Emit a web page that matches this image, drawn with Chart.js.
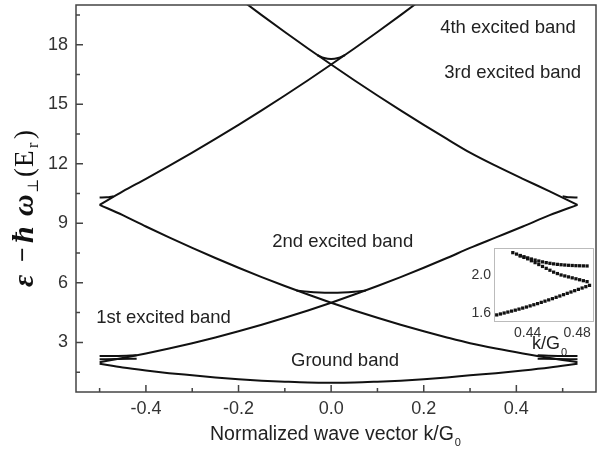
<!DOCTYPE html>
<html>
<head>
<meta charset="utf-8">
<script src="https://cdn.jsdelivr.net/npm/chart.js@4.4.1/dist/chart.umd.min.js"></script>
<style>
  html, body { margin: 0; padding: 0; background: #fff; }
  #wrap { position: relative; width: 597px; height: 450px; }
  #main { position: absolute; left: 0; top: 0; }
  #inset { position: absolute; left: 455px; top: 240px; }
</style>
</head>
<body>
<div id="wrap">
  <canvas id="main" width="597" height="450"></canvas>
  <canvas id="inset" width="142" height="118"></canvas>
</div>
<script>
// ---- data ----
// the right half of the plot runs a little past 0.5 in the original figure
const kGrid = [-0.5, -0.45, -0.4, -0.35, -0.3, -0.25, -0.2, -0.15, -0.1, -0.05, 0,
               0.05, 0.1, 0.15, 0.2, 0.25, 0.3, 0.356, 0.414, 0.472, 0.532];

const groundBand   = [1.92, 1.73, 1.58, 1.45, 1.34, 1.23, 1.14, 1.07, 1.02, 0.98, 0.97,
                      0.98, 1.02, 1.07, 1.14, 1.23, 1.34, 1.45, 1.58, 1.73, 1.92];
const risingLow    = [2.00, 2.21, 2.44, 2.69, 2.96, 3.25, 3.56, 3.89, 4.24, 4.61, 5.00,
                      5.41, 5.84, 6.29, 6.76, 7.25, 7.76, 8.29, 8.84, 9.41, 9.93];
const fallingLow   = [9.93, 9.41, 8.84, 8.29, 7.76, 7.25, 6.76, 6.29, 5.84, 5.41, 5.00,
                      4.61, 4.24, 3.89, 3.56, 3.25, 2.96, 2.69, 2.44, 2.21, 2.00];
const risingHigh   = [9.93, 10.61, 11.24, 11.89, 12.56, 13.25, 13.96, 14.69, 15.44, 16.21, 17.00,
                      17.81, 18.64, 19.49, 20.36, 21.25, 22.16, 23.09, 24.04, 25.01, 26.00];
const fallingHigh  = [26.00, 25.01, 24.04, 23.09, 22.16, 21.25, 20.36, 19.49, 18.64, 17.81, 17.00,
                      16.21, 15.44, 14.69, 13.96, 13.25, 12.56, 11.89, 11.24, 10.61, 9.93];

// small gap pieces near the crossings
const arc5K  = [-0.075, -0.05, -0.025, 0, 0.025, 0.05, 0.075];
const arc5E  = [5.62, 5.55, 5.51, 5.50, 5.51, 5.55, 5.62];
const arc17K = [-0.03, -0.015, 0, 0.015, 0.03];
const arc17E = [17.48, 17.33, 17.28, 17.33, 17.48];
const stub10LK = [-0.5, -0.485, -0.47];
const stub10LE = [10.30, 10.31, 10.36];
const stub10RK = [0.50, 0.516, 0.532];
const stub10RE = [10.36, 10.31, 10.30];
const stubALK = [-0.5, -0.46, -0.42];
const stubALE = [2.31, 2.32, 2.35];
const stubBLK = [-0.5, -0.46, -0.42];
const stubBLE = [2.15, 2.16, 2.18];
const stubARK = [0.446, 0.49, 0.532];
const stubARE = [2.35, 2.32, 2.31];
const stubBRK = [0.446, 0.49, 0.532];
const stubBRE = [2.18, 2.16, 2.15];

const xMajor = [-0.4, -0.2, 0, 0.2, 0.4];
const xMinor = [-0.5, -0.3, -0.1, 0.1, 0.3, 0.5];
const yMajor = [3, 6, 9, 12, 15, 18];
const yMinor = [1.5, 4.5, 7.5, 10.5, 13.5, 16.5, 19.5];

const bandLabels = ['4th excited band', '3rd excited band', '2nd excited band', '1st excited band', 'Ground band'];
const labelK = [0.382, 0.392, 0.025, -0.362, 0.03];
const labelE = [18.86, 16.59, 8.06, 4.25, 2.06];

// inset (dotted) data
const insetGroundK = [0.415, 0.418, 0.421, 0.424, 0.427, 0.430, 0.433, 0.436, 0.439, 0.442, 0.445, 0.448, 0.451,
                      0.454, 0.457, 0.460, 0.463, 0.466, 0.469, 0.472, 0.475, 0.478, 0.481, 0.484, 0.487, 0.490];
const insetGroundE = [1.580, 1.590, 1.600, 1.610, 1.620, 1.630, 1.641, 1.652, 1.663, 1.675, 1.687, 1.699, 1.712,
                      1.725, 1.738, 1.751, 1.765, 1.779, 1.793, 1.807, 1.821, 1.835, 1.849, 1.863, 1.877, 1.891];
const insetFlatK = [0.428, 0.431, 0.434, 0.437, 0.440, 0.443, 0.446, 0.449, 0.452, 0.455, 0.458,
                    0.461, 0.464, 0.467, 0.470, 0.473, 0.476, 0.479, 0.482, 0.485, 0.488];
const insetFlatE = [2.235, 2.220, 2.205, 2.192, 2.180, 2.168, 2.157, 2.147, 2.138, 2.130, 2.123,
                    2.117, 2.112, 2.108, 2.105, 2.102, 2.100, 2.098, 2.097, 2.096, 2.095];
const insetDropK = [0.434, 0.437, 0.440, 0.443, 0.446, 0.449, 0.452, 0.455, 0.458, 0.461,
                    0.464, 0.467, 0.470, 0.473, 0.476, 0.479, 0.482, 0.485, 0.488];
const insetDropE = [2.200, 2.185, 2.170, 2.150, 2.130, 2.110, 2.090, 2.070, 2.050, 2.030,
                    2.015, 2.000, 1.990, 1.980, 1.970, 1.960, 1.950, 1.940, 1.930];
const insetXTicks = [0.44, 0.48];
const insetYTicks = [1.6, 2.0];

// ---- helpers ----
const SANS = '"Liberation Sans", Arial, sans-serif';
const SERIF = '"Liberation Serif", "Times New Roman", serif';

function mkLine(xs, ys) {
    return {
        data: xs.map((x, i) => ({ x: x, y: ys[i] })),
        borderColor: '#111',
        borderWidth: 2,
        pointRadius: 0,
        fill: false,
        cubicInterpolationMode: 'monotone'
    };
}

function mkDots(xs, ys) {
    return {
        data: xs.map((x, i) => ({ x: x, y: ys[i] })),
        showLine: false,
        pointStyle: 'rect',
        pointRadius: 2.3,
        pointBorderWidth: 0,
        pointBackgroundColor: '#111'
    };
}

// keep Chart.js from reserving room for half tick labels
function noPad(s) {
    s.paddingTop = 0;
    s.paddingBottom = 0;
    s.paddingLeft = 0;
    s.paddingRight = 0;
}

// frame, inward ticks, band labels and axis titles
const mainDecor = {
    id: 'mainDecor',
    afterDatasetsDraw(chart) {
        const { ctx, chartArea: a, scales: { x, y } } = chart;
        ctx.save();
        ctx.strokeStyle = '#444';
        ctx.lineWidth = 1.5;
        ctx.strokeRect(a.left, a.top, a.right - a.left, a.bottom - a.top);

        ctx.beginPath();
        xMajor.forEach(v => { const p = x.getPixelForValue(v); ctx.moveTo(p, a.bottom); ctx.lineTo(p, a.bottom - 7); });
        xMinor.forEach(v => { const p = x.getPixelForValue(v); ctx.moveTo(p, a.bottom); ctx.lineTo(p, a.bottom - 4); });
        yMajor.forEach(v => { const p = y.getPixelForValue(v); ctx.moveTo(a.left, p); ctx.lineTo(a.left + 7, p); });
        yMinor.forEach(v => { const p = y.getPixelForValue(v); ctx.moveTo(a.left, p); ctx.lineTo(a.left + 4, p); });
        ctx.stroke();

        ctx.fillStyle = '#222';
        ctx.font = '18.5px ' + SANS;
        ctx.textAlign = 'center';
        ctx.textBaseline = 'middle';
        bandLabels.forEach((t, i) => {
            ctx.fillText(t, x.getPixelForValue(labelK[i]), y.getPixelForValue(labelE[i]));
        });

        // x title with subscript
        const main = 'Normalized wave vector k/G';
        ctx.font = '19.5px ' + SANS;
        const w = ctx.measureText(main).width;
        ctx.font = '11px ' + SANS;
        const ws = ctx.measureText('0').width;
        const sx = 335 - (w + ws) / 2;
        ctx.textAlign = 'left';
        ctx.textBaseline = 'alphabetic';
        ctx.font = '19.5px ' + SANS;
        ctx.fillText(main, sx, 440);
        ctx.font = '11px ' + SANS;
        ctx.fillText('0', sx + w + 1, 446);

        // y title, rotated
        ctx.translate(33, 287);
        ctx.rotate(-Math.PI / 2);
        ctx.fillStyle = '#111';
        const pieces = [
            ['ε', 0, 0, 'italic bold 30px ' + SERIF],
            ['−', 25, -2, 'bold 26px ' + SERIF],
            ['ħ', 44, 0, 'italic bold 30px ' + SERIF],
            ['ω', 71, 0, 'italic bold 30px ' + SERIF],
            ['⊥', 94, 5, '15px "DejaVu Serif", serif'],
            ['(', 110, 0, '27px ' + SERIF],
            ['E', 120, 0, '27px ' + SERIF],
            ['r', 139, 5, '16px ' + SERIF],
            [')', 148, 0, '27px ' + SERIF]
        ];
        pieces.forEach(p => { ctx.font = p[3]; ctx.fillText(p[0], p[1], p[2]); });
        ctx.restore();
    }
};

new Chart(document.getElementById('main'), {
    type: 'line',
    data: {
        datasets: [
            mkLine(kGrid, groundBand),
            mkLine(kGrid, risingLow),
            mkLine(kGrid, fallingLow),
            mkLine(kGrid, risingHigh),
            mkLine(kGrid, fallingHigh),
            mkLine(arc5K, arc5E),
            mkLine(arc17K, arc17E),
            mkLine(stub10LK, stub10LE),
            mkLine(stub10RK, stub10RE),
            mkLine(stubALK, stubALE),
            mkLine(stubBLK, stubBLE),
            mkLine(stubARK, stubARE),
            mkLine(stubBRK, stubBRE)
        ]
    },
    options: {
        responsive: false,
        animation: false,
        layout: { padding: { top: 5, right: 1, left: 0, bottom: 0 } },
        plugins: { legend: { display: false }, tooltip: { enabled: false } },
        scales: {
            x: {
                type: 'linear',
                min: -0.551,
                max: 0.572,
                afterBuildTicks: s => { s.ticks = xMajor.map(v => ({ value: v })); },
                afterFit: s => { s.height = 58; noPad(s); },
                ticks: {
                    callback: v => v.toFixed(1),
                    font: { family: SANS, size: 18 },
                    color: '#333',
                    padding: 6,
                    maxRotation: 0
                },
                grid: { display: false, drawTicks: false },
                border: { display: false }
            },
            y: {
                type: 'linear',
                min: 0.5,
                max: 20,
                afterBuildTicks: s => { s.ticks = yMajor.map(v => ({ value: v })); },
                afterFit: s => { s.width = 76; noPad(s); },
                ticks: {
                    callback: v => String(v),
                    font: { family: SANS, size: 18 },
                    color: '#333',
                    padding: 8
                },
                grid: { display: false, drawTicks: false },
                border: { display: false }
            }
        }
    },
    plugins: [mainDecor]
});

// ---- inset ----
const insetDecor = {
    id: 'insetDecor',
    beforeDatasetsDraw(chart) {
        const { ctx, chartArea: a } = chart;
        ctx.save();
        ctx.fillStyle = '#fff';
        ctx.fillRect(a.left, a.top, a.right - a.left, a.bottom - a.top);
        ctx.restore();
    },
    afterDatasetsDraw(chart) {
        const { ctx, chartArea: a } = chart;
        ctx.save();
        ctx.strokeStyle = '#bbb';
        ctx.lineWidth = 1;
        ctx.strokeRect(a.left + 0.5, a.top + 0.5, a.right - a.left, a.bottom - a.top);
        ctx.fillStyle = '#222';
        ctx.textAlign = 'left';
        ctx.textBaseline = 'alphabetic';
        ctx.font = '18px ' + SANS;
        ctx.fillText('k/G', 77, 109);
        const w = ctx.measureText('k/G').width;
        ctx.font = '11px ' + SANS;
        ctx.fillText('0', 77 + w + 1, 116);
        ctx.restore();
    }
};

new Chart(document.getElementById('inset'), {
    type: 'scatter',
    data: {
        datasets: [
            mkDots(insetGroundK, insetGroundE),
            mkDots(insetFlatK, insetFlatE),
            mkDots(insetDropK, insetDropE)
        ]
    },
    options: {
        responsive: false,
        animation: false,
        layout: { padding: { top: 8, right: 3, left: 0, bottom: 0 } },
        plugins: { legend: { display: false }, tooltip: { enabled: false } },
        scales: {
            x: {
                type: 'linear',
                min: 0.4128,
                max: 0.4928,
                afterBuildTicks: s => { s.ticks = insetXTicks.map(v => ({ value: v })); },
                afterFit: s => { s.height = 37; noPad(s); },
                ticks: {
                    callback: v => v.toFixed(2),
                    font: { family: SANS, size: 14 },
                    color: '#333',
                    padding: 4,
                    maxRotation: 0
                },
                grid: { display: false, drawTicks: false },
                border: { display: false }
            },
            y: {
                type: 'linear',
                min: 1.516,
                max: 2.284,
                afterBuildTicks: s => { s.ticks = insetYTicks.map(v => ({ value: v })); },
                afterFit: s => { s.width = 39; noPad(s); },
                ticks: {
                    callback: v => v.toFixed(1),
                    font: { family: SANS, size: 14 },
                    color: '#333',
                    padding: 3
                },
                grid: { display: false, drawTicks: false },
                border: { display: false }
            }
        }
    },
    plugins: [insetDecor]
});
</script>
</body>
</html>
